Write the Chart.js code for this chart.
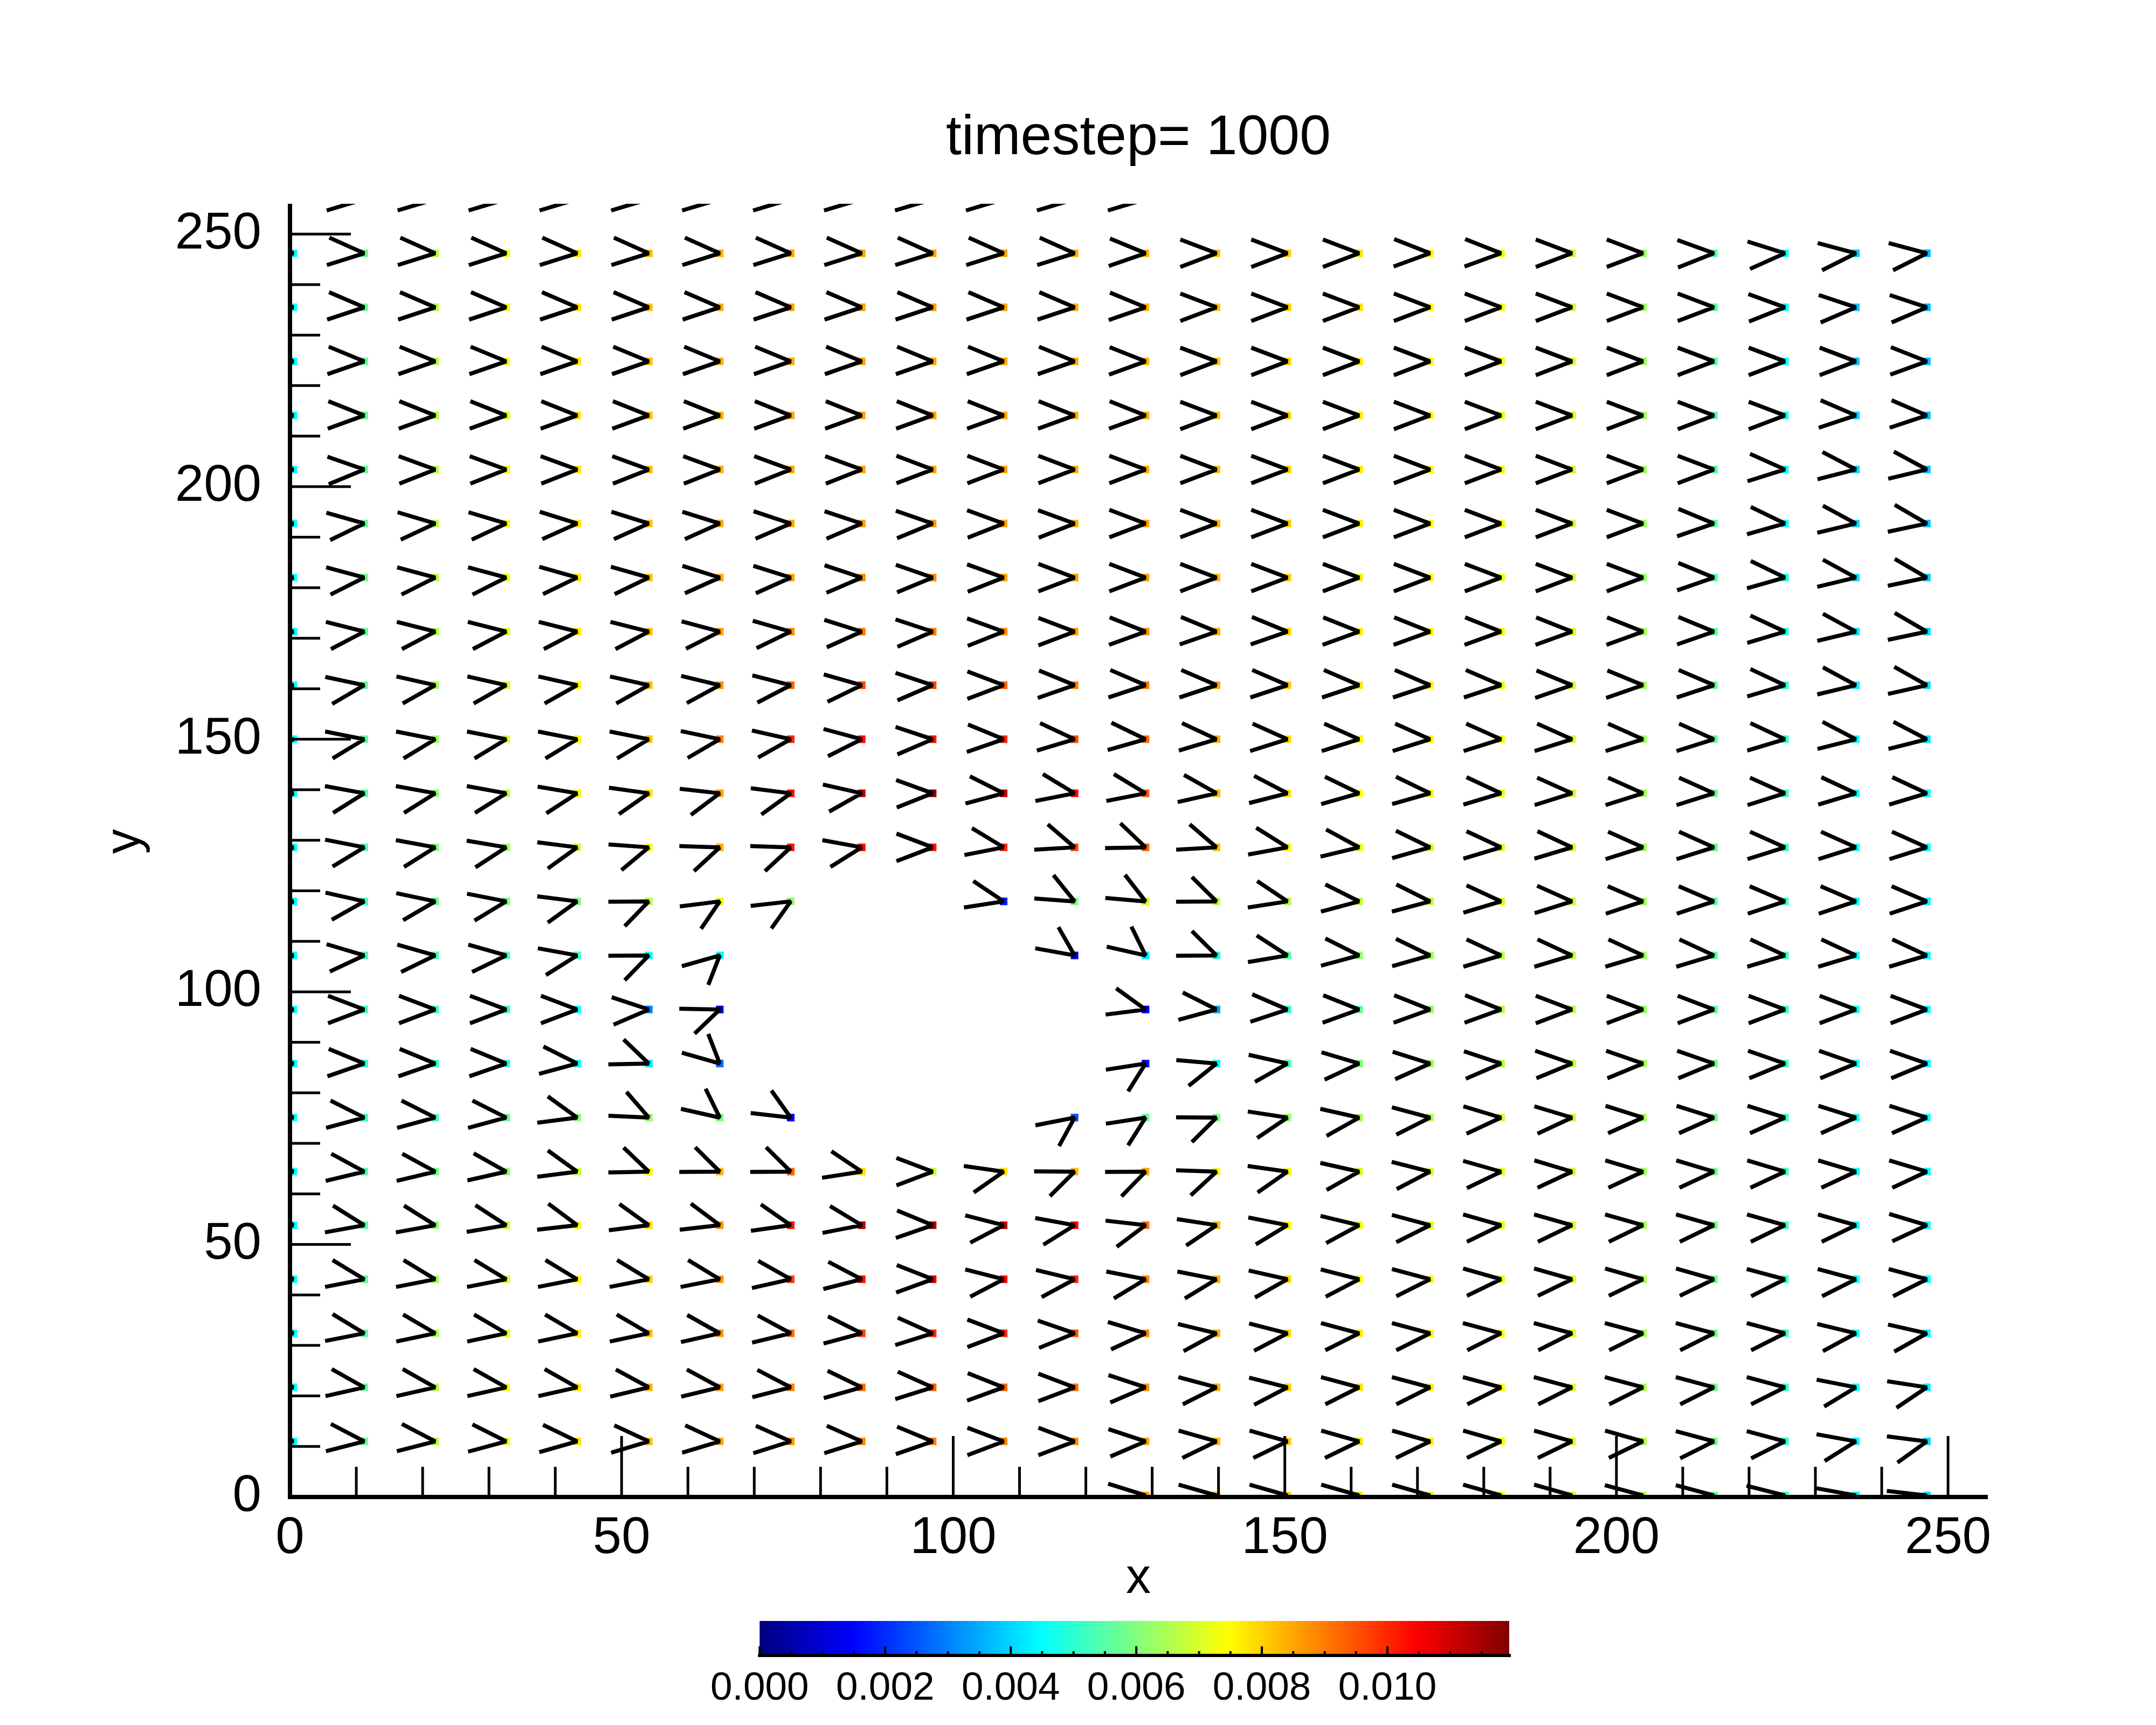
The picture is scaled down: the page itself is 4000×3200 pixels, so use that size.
<!DOCTYPE html>
<html><head><meta charset="utf-8">
<script src="https://cdn.jsdelivr.net/npm/chart.js@4.4.1/dist/chart.umd.min.js"></script>
<style>
html,body{margin:0;padding:0;background:#fff;}
#wrap{position:relative;width:4000px;height:3200px;background:#fff;}
#wrap canvas{position:absolute;}
</style>
</head><body>
<div id="wrap">
<canvas id="main" width="4000" height="3200" style="left:0;top:0;"></canvas>
<canvas id="cbar" width="1600" height="250" style="left:1300px;top:2950px;"></canvas>
</div>
<script>
// ---------------- data ----------------
const titleText = 'timestep= 1000';
const xTicks = [0, 50, 100, 150, 200, 250];
const yTicks = [0, 50, 100, 150, 200, 250];
const cbTicks = [0, 0.002, 0.004, 0.006, 0.008, 0.010];
const cbMax = 0.01194;
// grid positions of the vectors
const xCols = [0.5, 11.2, 21.9, 32.6, 43.3, 54.1, 64.8, 75.5, 86.2, 96.9, 107.6, 118.3,
               129.0, 139.7, 150.4, 161.2, 171.9, 182.6, 193.3, 204.0, 214.7, 225.4, 236.1, 246.8];
const yRows = [0.3, 11.0, 21.7, 32.4, 43.1, 53.8, 64.4, 75.1, 85.8, 96.5, 107.2, 117.9, 128.6,
               139.3, 150.0, 160.7, 171.3, 182.0, 192.7, 203.4, 214.1, 224.8, 235.5, 246.2, 256.9];
const _ = null;
// flow direction (degrees, data space) per row, one value per column
const D0  = [_,_,_,_,_,_,_,_,_,_,_,_, 4,6,6,6,6,6,6,7,7,8,13,18];
const D1  = [-8,-8,-8,-7,-6,-5,-5,-4,-4,-2,0,0, 3,6,6,6,6,6,6,6,7,7,13,17];
const D2  = [-10,-10,-10,-10,-10,-9,-9,-8,-6,-4,-1,0, 3,7,8,7,7,7,7,7,7,7,12,15];
const D3  = [-12,-12,-11,-11,-11,-11,-10,-9,-7,-4,0,2, 5,9,8,7,7,7,7,7,7,7,9,10];
const D4  = [-12,-12,-12,-12,-12,-12,-12,-10,-8,-1,8,9, 12,12,10,8,7,6,6,6,6,7,7,7];
const D5  = [-13,-13,-13,-14,-18,-17,-18,-16,-12,-2,8,13, 18,15,12,9,7,6,6,6,6,6,6,5];
const D6  = [-9,-9,-9,-10,-17,-25,-26,-26,-15,0,16,26, 27,24,16,10,8,6,5,5,5,5,5,5];
const D7  = [-7,-7,-7,-7,-17,-30,-43,-35,_,_,_,41, 38,26,15,10,7,5,5,4,4,4,4,4];
const D8  = [-2,-2,-2,-2,-7,-25,-47,_,_,_,_,_, 38,20,10,5,4,3,2,2,2,2,2,2];
const D9  = [0,0,0,0,0,3,25,_,_,_,_,_, -17,-7,-3,-1,-1,-1,0,0,0,0,0,0];
const D10 = [5,5,6,6,13,27,47,_,_,_,_,-40, -43,-26,-14,-7,-6,-5,-5,-5,-5,-5,-5,-5];
const D11 = [10,10,11,12,17,27,36,35,_,_,-15,-32, -33,-26,-15,-7,-7,-5,-4,-3,-3,-3,-3,-3];
const D12 = [12,12,13,14,17,21,24,24,13,0,-12,-22, -25,-22,-13,-9,-6,-5,-5,-4,-4,-4,-4,-4];
const D13 = [13,13,13,13,14,16,18,17,10,1,-7,-12, -12,-10,-8,-6,-6,-5,-4,-4,-4,-4,-5,-5];
const D14 = [12,12,12,12,12,12,11,10,7,3,-2,-5, -6,-5,-4,-4,-4,-4,-4,-4,-4,-5,-8,-8];
const D15 = [11,11,10,10,10,10,9,8,6,3,0,-2, -3,-3,-3,-3,-3,-3,-2,-2,-3,-5,-9,-10];
const D16 = [8,8,8,8,8,8,7,6,4,3,1,0, -1,-2,-2,-1,-1,-1,-1,-1,-2,-5,-9,-11];
const D17 = [7,7,7,7,6,6,4,4,3,2,1,0, 0,0,0,0,0,0,0,0,-2,-6,-9,-11];
const D18 = [6,6,5,5,4,4,4,3,3,2,1,1, 0,0,0,0,0,0,0,0,-2,-6,-9,-11];
const D19 = [1,2,1,1,1,1,1,1,1,0,0,0, 0,0,0,0,0,0,0,0,0,-4,-8,-9];
const D20 = [-1,-1,-1,-1,-1,-1,-1,-1,-1,-1,-1,-1, -1,0,0,0,0,0,0,0,0,0,-3,-3];
const D21 = [-2,-2,-2,-2,-2,-2,-2,-2,-2,-2,-2,-2, -1,0,0,0,0,0,0,0,0,0,0,-1];
const D22 = [-3,-3,-3,-3,-3,-3,-3,-3,-3,-3,-3,-3, -2,0,0,0,0,0,0,0,0,1,3,3];
const D23 = [-4,-4,-4,-4,-4,-4,-4,-4,-4,-4,-4,-4, -2,0,0,0,-1,-1,0,0,1,4,7,7];
const D24 = [-5,-5,-5,-5,-5,-5,-5,-5,-5,-5,-5,-5,-5, _,_,_,_,_,_,_,_,_,_,_];
// speed per row (colour of the point)
const M0  = [_,_,_,_,_,_,_,_,_,_,_,_, .0085,.0083,.0080,.0078,.0076,.0074,.0071,.0066,.0058,.0050,.0043,.0041];
const M1  = [.0045,.0057,.0066,.0073,.0078,.0082,.0085,.0087,.0088,.0089,.0089,.0088, .0085,.0083,.0080,.0078,.0076,.0074,.0071,.0066,.0058,.0050,.0043,.0040];
const M2  = [.0045,.0056,.0066,.0073,.0078,.0083,.0086,.0089,.0092,.0093,.0093,.0092, .0087,.0084,.0080,.0078,.0076,.0074,.0071,.0065,.0058,.0051,.0045,.0043];
const M3  = [.0045,.0056,.0065,.0072,.0077,.0082,.0087,.0092,.0097,.0100,.0100,.0095, .0088,.0084,.0079,.0077,.0075,.0074,.0071,.0065,.0058,.0052,.0046,.0044];
const M4  = [.0045,.0056,.0064,.0070,.0075,.0080,.0087,.0097,.0103,.0108,.0104,.0100, .0089,.0084,.0079,.0075,.0074,.0073,.0070,.0065,.0058,.0052,.0046,.0045];
const M5  = [.0045,.0055,.0062,.0068,.0073,.0079,.0087,.0102,.0113,.0114,.0112,.0104, .0092,.0083,.0075,.0073,.0072,.0072,.0070,.0065,.0058,.0052,.0046,.0045];
const M6  = [.0045,.0054,.0058,.0062,.0068,.0074,.0083,.0093,.0078,.0068,.0078,.0083, .0085,.0075,.0073,.0070,.0070,.0071,.0069,.0064,.0058,.0052,.0046,.0045];
const M7  = [.0045,.0052,.0054,.0056,.0060,.0062,.0060,.0014,_,_,_,.0025, .0058,.0060,.0062,.0064,.0066,.0068,.0068,.0064,.0058,.0052,.0046,.0045];
const M8  = [.0045,.0050,.0052,.0050,.0047,.0042,.0028,_,_,_,_,_, .0017,.0044,.0054,.0060,.0064,.0066,.0067,.0064,.0058,.0052,.0046,.0045];
const M9  = [.0045,.0052,.0052,.0052,.0046,.0030,.0008,_,_,_,_,_, .0015,.0034,.0050,.0057,.0063,.0066,.0066,.0063,.0056,.0052,.0046,.0045];
const M10 = [.0045,.0052,.0054,.0054,.0053,.0046,.0044,_,_,_,_,.0012, .0042,.0047,.0055,.0062,.0064,.0066,.0067,.0063,.0056,.0052,.0046,.0045];
const M11 = [.0045,.0053,.0057,.0060,.0060,.0067,.0073,.0062,_,_,.0018,.0060, .0070,.0068,.0066,.0067,.0068,.0070,.0068,.0063,.0056,.0052,.0045,.0044];
const M12 = [.0045,.0054,.0060,.0064,.0068,.0074,.0084,.0101,.0104,.0102,.0100,.0096, .0093,.0082,.0074,.0072,.0071,.0071,.0069,.0064,.0057,.0052,.0046,.0045];
const M13 = [.0045,.0055,.0062,.0067,.0073,.0078,.0086,.0103,.0113,.0118,.0112,.0104, .0094,.0083,.0078,.0075,.0073,.0072,.0069,.0064,.0057,.0052,.0046,.0045];
const M14 = [.0045,.0055,.0063,.0070,.0075,.0081,.0090,.0100,.0103,.0102,.0100,.0096, .0092,.0084,.0079,.0076,.0074,.0073,.0070,.0064,.0057,.0051,.0045,.0042];
const M15 = [.0045,.0056,.0064,.0071,.0076,.0082,.0087,.0093,.0096,.0096,.0093,.0090, .0090,.0085,.0080,.0077,.0075,.0073,.0070,.0064,.0057,.0050,.0043,.0041];
const M16 = [.0045,.0057,.0065,.0072,.0077,.0082,.0085,.0088,.0090,.0090,.0088,.0086, .0088,.0084,.0080,.0077,.0075,.0073,.0070,.0064,.0056,.0049,.0042,.0040];
const M17 = [.0045,.0057,.0066,.0073,.0078,.0082,.0085,.0086,.0088,.0088,.0086,.0085, .0086,.0083,.0080,.0077,.0075,.0073,.0069,.0063,.0055,.0047,.0041,.0039];
const M18 = [.0045,.0057,.0066,.0073,.0078,.0081,.0084,.0085,.0086,.0086,.0085,.0084, .0085,.0083,.0080,.0077,.0075,.0073,.0069,.0063,.0055,.0047,.0040,.0038];
const M19 = [.0045,.0057,.0066,.0073,.0078,.0082,.0084,.0085,.0085,.0085,.0085,.0084, .0084,.0082,.0080,.0077,.0075,.0073,.0069,.0063,.0055,.0047,.0040,.0038];
const M20 = [.0045,.0057,.0066,.0073,.0078,.0082,.0084,.0085,.0085,.0085,.0085,.0084, .0084,.0082,.0080,.0077,.0075,.0073,.0069,.0063,.0055,.0047,.0039,.0037];
const M21 = [.0045,.0057,.0066,.0073,.0078,.0082,.0084,.0085,.0085,.0085,.0085,.0084, .0083,.0082,.0080,.0077,.0075,.0073,.0069,.0063,.0055,.0046,.0038,.0037];
const M22 = [.0045,.0057,.0066,.0073,.0078,.0082,.0084,.0085,.0085,.0085,.0085,.0084, .0083,.0082,.0080,.0078,.0075,.0073,.0069,.0063,.0055,.0046,.0038,.0036];
const M23 = [.0045,.0057,.0066,.0073,.0078,.0082,.0084,.0085,.0085,.0085,.0085,.0084, .0083,.0082,.0080,.0078,.0075,.0073,.0069,.0063,.0055,.0046,.0038,.0036];
const M24 = [.0045,.0057,.0066,.0073,.0078,.0082,.0084,.0085,.0085,.0085,.0085,.0084,.0083, _,_,_,_,_,_,_,_,_,_,_];

const dirRows = [D0,D1,D2,D3,D4,D5,D6,D7,D8,D9,D10,D11,D12,D13,D14,D15,D16,D17,D18,D19,D20,D21,D22,D23,D24];
const magRows = [M0,M1,M2,M3,M4,M5,M6,M7,M8,M9,M10,M11,M12,M13,M14,M15,M16,M17,M18,M19,M20,M21,M22,M23,M24];

// ---------------- helpers ----------------
const FONT = '"Liberation Sans", Arial, Helvetica, sans-serif';
const HEAD_LEN = 6.1;              // arrow-head leg length (data units)
const HEAD_HALF = 26.5 * Math.PI / 180;
function clamp01(v){ return Math.max(0, Math.min(1, v)); }
function jet(t){
  t = clamp01(t);
  const r = clamp01(1.5 - Math.abs(4*t - 3));
  const g = clamp01(1.5 - Math.abs(4*t - 2));
  const b = clamp01(1.5 - Math.abs(4*t - 1));
  return 'rgb(' + Math.round(r*255) + ',' + Math.round(g*255) + ',' + Math.round(b*255) + ')';
}

const dotData = [], dotColors = [], headData = [];
for (let k = 0; k < yRows.length; k++) {
  for (let i = 0; i < xCols.length; i++) {
    const d = dirRows[k][i], m = magRows[k][i];
    if (d === null || m === null) continue;
    const x = xCols[i], y = yRows[k];
    dotData.push({x, y});
    dotColors.push(jet(m / cbMax));
    const th = d * Math.PI / 180;
    const a1 = th + Math.PI - HEAD_HALF, a2 = th + Math.PI + HEAD_HALF;
    headData.push({x: x + HEAD_LEN*Math.cos(a1), y: y + HEAD_LEN*Math.sin(a1)});
    headData.push({x, y});
    headData.push({x: x + HEAD_LEN*Math.cos(a2), y: y + HEAD_LEN*Math.sin(a2)});
    headData.push({x, y: null});
  }
}

// ---------------- main chart ----------------
const axesPlugin = {
  id: 'idlAxes',
  afterDatasetsDraw(chart) {
    const ctx = chart.ctx, xs = chart.scales.x, ys = chart.scales.y;
    const x0 = xs.getPixelForValue(0), y0 = ys.getPixelForValue(0);
    const xe = xs.getPixelForValue(xs.max), ye = ys.getPixelForValue(ys.max);
    ctx.save();
    ctx.strokeStyle = '#000';
    ctx.lineCap = 'butt';
    // ticks (inward)
    ctx.lineWidth = 5;
    for (let v = 0; v <= 250; v += 10) {
      const major = xTicks.includes(v);
      const len = major ? 113 : 56;
      const px = xs.getPixelForValue(v);
      ctx.beginPath(); ctx.moveTo(px, y0); ctx.lineTo(px, y0 - len); ctx.stroke();
      const py = ys.getPixelForValue(v);
      const lenY = yTicks.includes(v) ? 113 : 56;
      ctx.beginPath(); ctx.moveTo(x0, py); ctx.lineTo(x0 + lenY, py); ctx.stroke();
    }
    // axis lines
    ctx.lineWidth = 8;
    ctx.beginPath(); ctx.moveTo(x0, y0 + 4); ctx.lineTo(x0, ye); ctx.stroke();
    ctx.beginPath(); ctx.moveTo(x0 - 4, y0); ctx.lineTo(xe, y0); ctx.stroke();
    ctx.restore();
  },
  afterDraw(chart) {
    const ctx = chart.ctx;
    ctx.save();
    ctx.fillStyle = '#000';
    ctx.textAlign = 'center';
    ctx.textBaseline = 'alphabetic';
    ctx.font = '104px ' + FONT;
    ctx.fillText(titleText, 2112, 286);
    ctx.font = '92px ' + FONT;
    ctx.fillText('x', 2112, 2955);
    ctx.translate(234, 1561);
    ctx.rotate(-Math.PI / 2);
    ctx.textBaseline = 'middle';
    ctx.fillText('y', 0, 0);
    ctx.restore();
  }
};

new Chart(document.getElementById('main'), {
  type: 'scatter',
  data: {
    datasets: [
      {
        label: 'heads', type: 'line', data: headData, showLine: true,
        borderColor: '#000', borderWidth: 7.5, pointRadius: 0, pointHoverRadius: 0,
        spanGaps: false, tension: 0, fill: false, clip: 0,
        borderCapStyle: 'butt', borderJoinStyle: 'bevel', order: 0
      },
      {
        label: 'speed', type: 'scatter', data: dotData,
        pointStyle: 'rect', pointRadius: 10, pointHoverRadius: 10,
        pointBackgroundColor: dotColors, pointBorderWidth: 0, borderColor: 'rgba(0,0,0,0)',
        clip: 0, order: 1
      }
    ]
  },
  options: {
    responsive: false, devicePixelRatio: 1, animation: false, events: [],
    layout: { padding: { left: 0, right: 312, top: 378, bottom: 0 } },
    plugins: { legend: { display: false }, tooltip: { enabled: false }, title: { display: false } },
    scales: {
      x: {
        type: 'linear', position: 'bottom', min: 0, max: 256,
        afterBuildTicks: s => { s.ticks = xTicks.map(v => ({ value: v })); },
        afterFit: s => { s.height = 423; },
        grid: { display: false, drawTicks: false }, border: { display: false },
        ticks: { color: '#000', font: { family: FONT, size: 96 }, padding: 20, maxRotation: 0, autoSkip: false }
      },
      y: {
        type: 'linear', position: 'left', min: 0, max: 256,
        afterBuildTicks: s => { s.ticks = yTicks.map(v => ({ value: v })); },
        afterFit: s => { s.width = 538; },
        grid: { display: false, drawTicks: false }, border: { display: false },
        ticks: { color: '#000', font: { family: FONT, size: 96 }, padding: 53, autoSkip: false }
      }
    }
  },
  plugins: [axesPlugin]
});

// ---------------- colour bar ----------------
const jetStops = [0, 0.125, 0.375, 0.625, 0.875, 1];
const cbarPlugin = {
  id: 'cbar',
  beforeDatasetsDraw(chart) {
    const ctx = chart.ctx, xs = chart.scales.x, a = chart.chartArea;
    const l = xs.getPixelForValue(0), r = xs.getPixelForValue(cbMax);
    const g = ctx.createLinearGradient(l, 0, r, 0);
    jetStops.forEach(t => g.addColorStop(t, jet(t)));
    ctx.save();
    ctx.fillStyle = g;
    ctx.fillRect(l, a.top, r - l, a.bottom - a.top);
    ctx.strokeStyle = '#000';
    ctx.lineWidth = 4;
    for (let i = 0; i * 0.0005 <= cbMax + 1e-9; i++) {
      const v = i * 0.0005;
      const px = xs.getPixelForValue(v);
      const len = (i % 4 === 0) ? 17 : 8;
      ctx.beginPath(); ctx.moveTo(px, a.bottom); ctx.lineTo(px, a.bottom - len); ctx.stroke();
    }
    ctx.lineWidth = 6;
    ctx.beginPath(); ctx.moveTo(l - 3, a.bottom); ctx.lineTo(r + 3, a.bottom); ctx.stroke();
    ctx.restore();
  }
};
new Chart(document.getElementById('cbar'), {
  type: 'scatter',
  data: { datasets: [{ data: [], pointRadius: 0 }] },
  options: {
    responsive: false, devicePixelRatio: 1, animation: false, events: [],
    layout: { padding: { left: 100, right: 100, top: 57, bottom: 0 } },
    plugins: { legend: { display: false }, tooltip: { enabled: false } },
    scales: {
      x: {
        type: 'linear', position: 'bottom', min: 0, max: cbMax,
        afterBuildTicks: s => { s.ticks = cbTicks.map(v => ({ value: v })); },
        afterFit: s => { s.height = 129; },
        grid: { display: false, drawTicks: false }, border: { display: false },
        ticks: { color: '#000', font: { family: FONT, size: 73 }, padding: 18, maxRotation: 0, autoSkip: false,
                 callback: v => Number(v).toFixed(3) }
      },
      y: { display: false, min: 0, max: 1 }
    }
  },
  plugins: [cbarPlugin]
});
</script>
</body></html>
